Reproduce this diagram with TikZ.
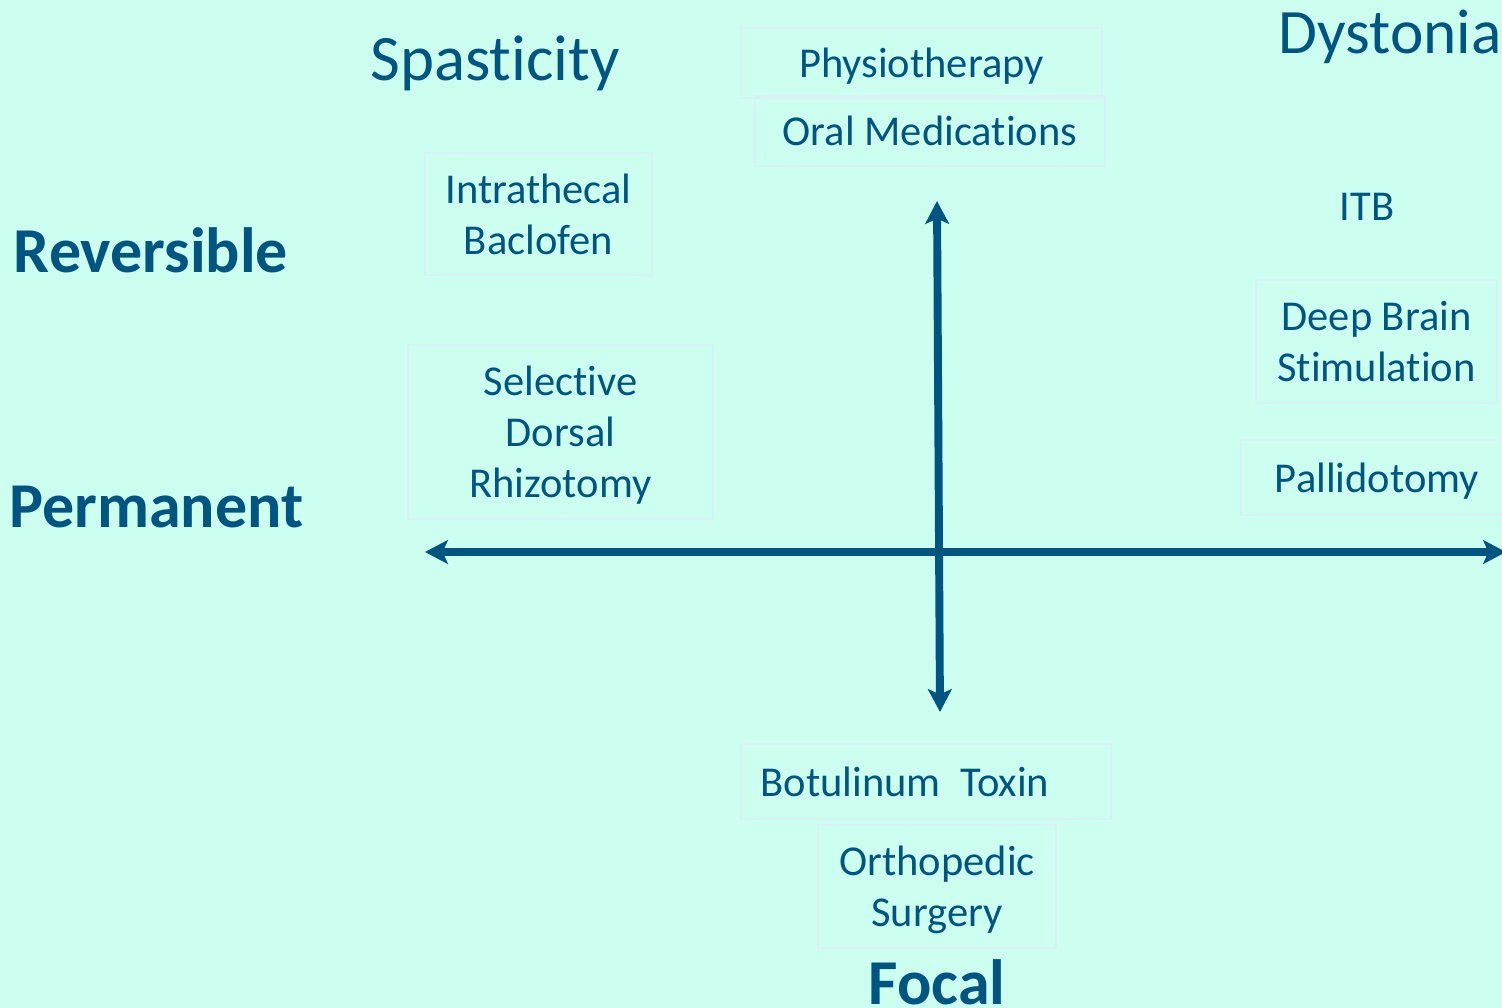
\documentclass[tikz,border=0pt]{standalone}
\usepackage{fontspec}
\setmainfont{Carlito}[RawFeature={-liga,-clig,-calt,-dlig}]
\usetikzlibrary{arrows.meta}
\definecolor{bgmint}{RGB}{204,255,240}
\definecolor{inkblue}{RGB}{0,84,128}
\definecolor{boxline}{RGB}{216,240,246}
\newcommand\linestrut{\rule[-0.26em]{0pt}{1.21em}}
\tikzset{
  treat/.style={draw=boxline, line width=0.85pt, inner sep=0pt, align=center,
    text=inkblue, font=\fontsize{24.2}{28.9}\selectfont,
    execute at begin node=\linestrut, execute at end node=\linestrut},
  plain/.style={inner sep=0pt, anchor=base, text=inkblue, font=\fontsize{24.2}{28.9}\selectfont},
  heading/.style={inner sep=0pt, anchor=base, text=inkblue, font=\fontsize{36}{40}\selectfont},
  axislabel/.style={heading, font=\fontsize{36.4}{40}\selectfont\bfseries},
  axis/.style={draw=inkblue, line width=4.5pt,
    {Stealth[length=13pt,width=13.5pt,inset=3pt]}-{Stealth[length=13pt,width=13.5pt,inset=3pt]}}
}
\begin{document}
\begin{tikzpicture}[x=0.02cm, y=-0.02cm]
                \fill[bgmint] (0, 0) rectangle (1502, 1008);
                \useasboundingbox (0, 0) rectangle (1502, 1008);

                 \node[heading, font=\fontsize{36.9}{40}\selectfont] (spast) at (495, 80){Spasticity};
                 \node[heading] (dyst) at (1390, 53){Dystonia};
                 \node[axislabel] (rev) at (151, 272){Reversible};
                 \node[axislabel] (perm) at (156.5, 527){Permanent};
                 \node[axislabel] (focal) at (937, 1004){Focal};

                 \node[treat, minimum width=7.22cm, minimum height=1.40cm] (physio) at (921.5, 63){Physiotherapy};
                 \node[treat, minimum width=7.00cm, minimum height=1.40cm] (oral) at (930, 131){Oral Medications};
                 \node[treat, minimum width=4.54cm, minimum height=2.44cm] (itb) at (538.5, 214){\linestrut Intrathecal\\Baclofen};
                 \node[treat, minimum width=6.10cm, minimum height=3.48cm] (sdr) at (560.5, 432){\linestrut Selective\\Dorsal\\Rhizotomy};
                 \node[plain] (itbdys) at (1367, 220){ITB};
                 \node[treat, minimum width=4.82cm, minimum height=2.46cm] (dbs) at (1376.5, 341.5){\linestrut Deep Brain\\Stimulation};
                 \node[treat, minimum width=5.44cm, minimum height=1.50cm] (palli) at (1377, 477.5){Pallidotomy};
                 \node[treat, minimum width=7.40cm, minimum height=1.50cm] (botox) at (926, 781.5){Botulinum~~Toxin\hspace*{0.84cm}};
                 \node[treat, minimum width=4.76cm, minimum height=2.46cm] (ortho) at (937, 886.5){\linestrut Orthopedic\\Surgery};

                 \coordinate (west) at (425, 552);
                 \coordinate (east) at (1506, 552);
                 \coordinate (north) at (937, 201);
                 \coordinate (south) at (940, 712);
                    \draw[axis] (west) -- (east);
                    \draw[axis] (south) -- (north);

\end{tikzpicture}
\end{document}
